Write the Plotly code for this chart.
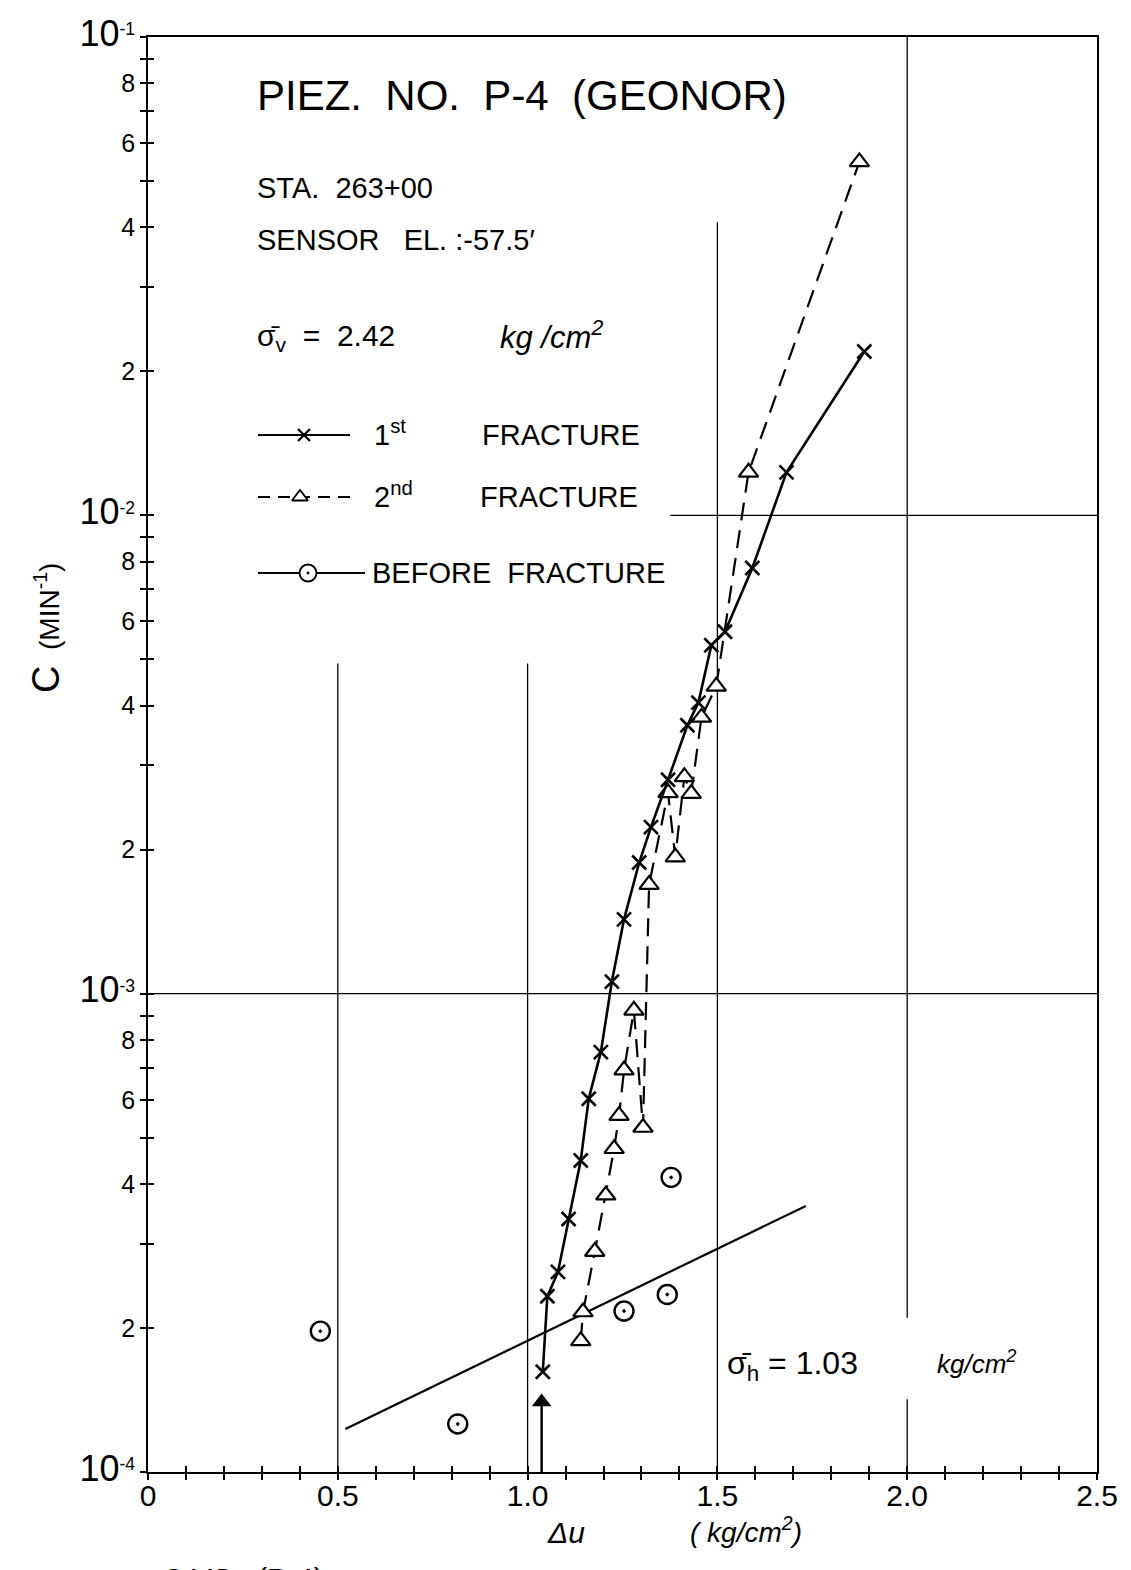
import plotly.graph_objects as go

# ---------------- data ----------------
first_u = [1.040, 1.052, 1.080, 1.108, 1.140, 1.161, 1.193, 1.222, 1.254, 1.294,
           1.325, 1.370, 1.421, 1.450, 1.484, 1.520, 1.592, 1.682, 1.887]
first_c = [1.62e-4, 2.33e-4, 2.62e-4, 3.38e-4, 4.48e-4, 6.03e-4, 7.55e-4, 1.06e-3, 1.43e-3, 1.88e-3,
           2.23e-3, 2.80e-3, 3.64e-3, 4.06e-3, 5.35e-3, 5.71e-3, 7.76e-3, 1.23e-2, 2.20e-2]

second_u = [1.140, 1.146, 1.177, 1.206, 1.228, 1.241, 1.254, 1.280, 1.304, 1.320,
            1.370, 1.389, 1.413, 1.431, 1.458, 1.497, 1.582, 1.874]
second_c = [1.88e-4, 2.16e-4, 2.89e-4, 3.79e-4, 4.74e-4, 5.56e-4, 6.92e-4, 9.23e-4, 5.25e-4, 1.69e-3,
            2.63e-3, 1.93e-3, 2.84e-3, 2.62e-3, 3.78e-3, 4.39e-3, 1.23e-2, 5.48e-2]

before_u = [0.454, 0.816, 1.254, 1.368, 1.378]
before_c = [1.97e-4, 1.26e-4, 2.17e-4, 2.35e-4, 4.13e-4]

fit_u = [0.52, 1.733]
fit_c = [1.23e-4, 3.60e-4]

arrow_u = [1.037, 1.037]
arrow_c = [1.0e-4, 1.40e-4]

x_tick_vals = [round(0.1 * i, 1) for i in range(26)]
x_tick_text = ["0", "", "", "", "", "0.5", "", "", "", "", "1.0", "", "", "", "", "1.5",
               "", "", "", "", "2.0", "", "", "", "", "2.5"]

y_decades = [-4, -3, -2]
y_mults = [1, 2, 3, 4, 5, 6, 7, 8, 9]
y_labelled = [2, 4, 6, 8]

# partial grid lines (drawn on the paper)
grid_v_u = [0.5, 1.0, 1.5, 2.0, 2.0]
grid_v_lo = [1e-4, 1e-4, 1e-4, 1e-4, 2.1e-4]
grid_v_hi = [4.9e-3, 4.9e-3, 4.1e-2, 1.42e-4, 1e-1]
grid_h_c = [1e-3, 1e-2]
grid_h_lo = [0.0, 1.376]
grid_h_hi = [2.5, 2.5]

# ---------------- layout geometry ----------------
W, H = 1131, 1570
L, R, T, B = 148, 34, 37, 98
PW, PH = W - L - R, H - T - B
FONT = "Liberation Sans, Arial, sans-serif"


def px(x):
    return (x - L) / PW


def py(y):
    return (H - B - y) / PH


y_tick_vals, y_tick_text = [], []
for e in y_decades:
    for m in y_mults:
        y_tick_vals.append(m * 10.0 ** e)
        if m == 1:
            y_tick_text.append('<span style="font-size:36px">10</span><sup>%d</sup>' % e)
        elif m in y_labelled:
            y_tick_text.append(str(m))
        else:
            y_tick_text.append("")
y_tick_vals.append(1e-1)
y_tick_text.append('<span style="font-size:36px">10</span><sup>-1</sup>')

fig = go.Figure()

# grid lines
gx, gy = [], []
for u, lo, hi in zip(grid_v_u, grid_v_lo, grid_v_hi):
    gx += [u, u, None]
    gy += [lo, hi, None]
for c, lo, hi in zip(grid_h_c, grid_h_lo, grid_h_hi):
    gx += [lo, hi, None]
    gy += [c, c, None]
fig.add_trace(go.Scatter(x=gx, y=gy, mode="lines", line=dict(color="black", width=1.3),
                         hoverinfo="skip", showlegend=False))

# fit line through "before fracture" points
fig.add_trace(go.Scatter(x=fit_u, y=fit_c, mode="lines", line=dict(color="black", width=2.2),
                         showlegend=False))

# arrow marking 1st fracture start
fig.add_trace(go.Scatter(x=arrow_u, y=arrow_c, mode="lines", line=dict(color="black", width=2.5),
                         showlegend=False))
fig.add_trace(go.Scatter(x=[arrow_u[1]], y=[arrow_c[1]], mode="markers",
                         marker=dict(symbol="triangle-up", size=17, color="black"),
                         showlegend=False))

# 2nd fracture
fig.add_trace(go.Scatter(x=second_u, y=second_c, mode="lines+markers",
                         line=dict(color="black", width=2.2, dash="18px,10px"),
                         marker=dict(symbol="triangle-up", size=17, color="white",
                                     line=dict(color="black", width=2.2)),
                         name="2nd FRACTURE", showlegend=False))

# 1st fracture
fig.add_trace(go.Scatter(x=first_u, y=first_c, mode="lines+markers",
                         line=dict(color="black", width=2.6),
                         marker=dict(symbol="x-thin-open", size=14, color="black",
                                     line=dict(color="black", width=2.6)),
                         name="1st FRACTURE", showlegend=False))

# before fracture
fig.add_trace(go.Scatter(x=before_u, y=before_c, mode="markers",
                         marker=dict(symbol="circle-open-dot", size=19, color="black",
                                     line=dict(color="black", width=2.4)),
                         name="BEFORE FRACTURE", showlegend=False))

# crossing ticks helper axes
fig.add_trace(go.Scatter(x=[None], y=[None], xaxis="x2", yaxis="y2", showlegend=False))

# legend keys drawn on a paper-like helper axis
key_rows = [py(435), py(497), py(573)]
fig.add_trace(go.Scatter(x=[px(258), px(350)], y=[key_rows[0]] * 2, mode="lines",
                         line=dict(color="black", width=1.8), xaxis="x3", yaxis="y3",
                         showlegend=False))
fig.add_trace(go.Scatter(x=[px(258), px(352)], y=[key_rows[1]] * 2, mode="lines",
                         line=dict(color="black", width=1.8, dash="12px,8px"),
                         xaxis="x3", yaxis="y3", showlegend=False))
fig.add_trace(go.Scatter(x=[px(258), px(365)], y=[key_rows[2]] * 2, mode="lines",
                         line=dict(color="black", width=1.8), xaxis="x3", yaxis="y3",
                         showlegend=False))
fig.add_trace(go.Scatter(x=[px(304)], y=[key_rows[0]], mode="markers",
                         marker=dict(symbol="x-thin-open", size=12, color="black",
                                     line=dict(color="black", width=2.2)),
                         xaxis="x3", yaxis="y3", showlegend=False))
fig.add_trace(go.Scatter(x=[px(300)], y=[key_rows[1]], mode="markers",
                         marker=dict(symbol="triangle-up", size=14, color="white",
                                     line=dict(color="black", width=1.8)),
                         xaxis="x3", yaxis="y3", showlegend=False))
fig.add_trace(go.Scatter(x=[px(308)], y=[key_rows[2]], mode="markers",
                         marker=dict(symbol="circle-dot", size=17, color="white",
                                     line=dict(color="black", width=1.8)),
                         xaxis="x3", yaxis="y3", showlegend=False))

ann = []


def text(x, y, s, size, xanchor="left", yanchor="middle", italic=False, angle=0):
    ann.append(dict(x=px(x), y=py(y), xref="paper", yref="paper", text=s, showarrow=False,
                    xanchor=xanchor, yanchor=yanchor, textangle=angle,
                    font=dict(family=FONT, size=size, color="black",
                              style="italic" if italic else "normal")))


text(255, 96, "PIEZ.  NO.  P-4  (GEONOR)", 42)
text(255, 188, "STA.  263+00", 29)
text(255, 240, "SENSOR   EL. :-57.5\u2032", 29)
text(255, 338, "\u03c3\u0304<sub>v</sub>  =  2.42", 30)
text(498, 335, "kg /cm<sup>2</sup>", 31, italic=True)
text(372, 433, "1<sup>st</sup>", 29)
text(480, 435, "FRACTURE", 29)
text(372, 495, "2<sup>nd</sup>", 29)
text(478, 497, "FRACTURE", 29)
text(370, 573, "BEFORE  FRACTURE", 29)
text(725, 1365, "\u03c3\u0304<sub>h</sub> = 1.03", 32)
text(935, 1362, "kg/cm<sup>2</sup>", 26, italic=True)
text(545, 1532, "\u0394u", 30, italic=True)
text(688, 1530, "( kg/cm<sup>2</sup>)", 28, italic=True)
text(46, 628, '<span style="font-size:38px">C</span>  (MIN<sup>-1</sup>)', 28,
     xanchor="center", angle=-90)
text(160, 1560, "C VS u(P-4)", 30, yanchor="top")

axis_common = dict(showgrid=False, zeroline=False, color="black", linecolor="black",
                   tickcolor="black", tickwidth=1.5)

fig.update_layout(
    width=W, height=H,
    margin=dict(l=L, r=R, t=T, b=B),
    paper_bgcolor="white", plot_bgcolor="white",
    font=dict(family=FONT, color="black"),
    annotations=ann,
    xaxis=dict(range=[0, 2.5], tickmode="array", tickvals=x_tick_vals, ticktext=x_tick_text,
               ticks="outside", ticklen=6, showline=True, linewidth=1.8, mirror=True,
               ticklabelstandoff=-10, tickfont=dict(size=30), **axis_common),
    yaxis=dict(type="log", range=[-4, -1], tickmode="array", tickvals=y_tick_vals,
               ticktext=y_tick_text, ticks="outside", ticklen=6, showline=True, linewidth=1.8,
               mirror=True, tickfont=dict(size=25), **axis_common),
    xaxis2=dict(range=[0, 2.5], overlaying="x", anchor="y2", tickmode="array",
                tickvals=x_tick_vals, ticks="inside", ticklen=6, showticklabels=False,
                showline=False, **axis_common),
    yaxis2=dict(type="log", range=[-4, -1], overlaying="y", anchor="x2", side="left",
                tickmode="array", tickvals=y_tick_vals, ticks="inside", ticklen=6,
                showticklabels=False, showline=False, **axis_common),
    xaxis3=dict(range=[0, 1], overlaying="x", anchor="y3", visible=False),
    yaxis3=dict(range=[0, 1], overlaying="y", anchor="x3", visible=False),
)

fig.write_html("out.html", config={"displayModeBar": False},
               post_script="document.body.style.margin='0';")
